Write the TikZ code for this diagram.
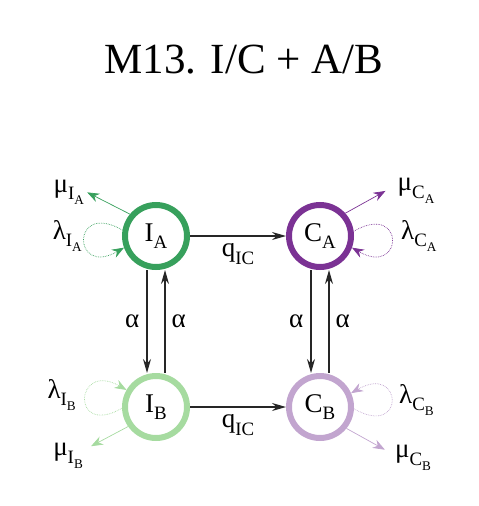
\documentclass[tikz,border=0pt]{standalone}
\usepackage{fontspec}
\setmainfont{Liberation Serif}
\usepackage{tikz}
\usetikzlibrary{arrows.meta,positioning}
\definecolor{ia}{HTML}{37A05C}
\definecolor{ca}{HTML}{7B3294}
\definecolor{ib}{HTML}{A6DBA0}
\definecolor{cb}{HTML}{C2A5CF}
\tikzset{
  st/.style={circle, draw=#1, line width=6pt, minimum size=62pt, inner sep=0pt,
             font=\fontsize{27}{30}\selectfont},
  lab/.style={font=\fontsize{27}{30}\selectfont, inner sep=0pt},
  arr/.style={-{Stealth[length=14pt,width=8pt]}, line width=1.3pt, draw=black!85},
  mu/.style={-{Stealth[length=12pt,width=9pt]}, line width=0.7pt, draw=#1},
  lam/.style={-{Stealth[length=12pt,width=9pt]}, line width=0.7pt, densely dotted, draw=#1}}
% lowered subscript in text
\newcommand{\lo}[1]{\raisebox{-0.28em}{\scalebox{0.7}{#1}}}

\begin{document}
\begin{tikzpicture}[x=1pt, y=1pt, node distance=96pt and 103pt]
  \useasboundingbox (0,0) rectangle (479,-506);
  \node[lab, font=\fontsize{43}{46}\selectfont] (title) at (244,-60) {M13. I/C + A/B};
  \node[st=ia] (IA) at (156,-236) {I\lo{A}};
  \node[st=ca, right=96pt of IA] (CA) {C\lo{A}};
  \node[st=ib, below=103pt of IA] (IB) {I\lo{B}};
  \node[st=cb, right=96pt of IB] (CB) {C\lo{B}};
  % transitions
  \draw[arr] (IA) -- node[lab, below=7pt] {q\lo{IC}} (CA);
  \draw[arr] (IB) -- node[lab, below=7pt] {q\lo{IC}} (CB);
  \draw[arr] ([xshift=-9pt]IA.south) -- node[lab, left=7pt] {α} ([xshift=-9pt]IB.north);
  \draw[arr] ([xshift=9pt]IB.north) -- node[lab, right=6pt] {α} ([xshift=9pt]IA.south);
  \draw[arr] ([xshift=-9pt]CA.south) -- node[lab, left=7pt] {α} ([xshift=-9pt]CB.north);
  \draw[arr] ([xshift=9pt]CB.north) -- node[lab, right=6pt] {α} ([xshift=9pt]CA.south);
  % deaths
  \draw[mu=ia] (IA.140) -- ++(153:48) coordinate (muIA);
  \draw[mu=ca] (CA.42) -- ++(29:46) coordinate (muCA);
  \draw[mu=ib] (IB.215) -- ++(208:42) coordinate (muIB);
  \draw[mu=cb] (CB.-39) -- ++(-29:44) coordinate (muCB);
  \node[lab, anchor=east, xshift=-3pt] at (muIA) {μ\lo{I\lo{A}}};
  \node[lab, anchor=west, xshift=12pt] at (muCA) {μ\lo{C\lo{A}}};
  \node[lab, anchor=east, xshift=-8pt, yshift=-10pt] at (muIB) {μ\lo{I\lo{B}}};
  \node[lab, anchor=west, xshift=10pt, yshift=-8pt] at (muCB) {μ\lo{C\lo{B}}};
  % births
  \draw[lam=ia] (IA.170) .. controls +(150:60) and +(210:60) .. (IA.200);
  \draw[lam=ca] (CA.8) .. controls +(30:60) and +(-30:60) .. (CA.-20);
  \draw[lam=ib] (IB.182) .. controls +(210:60) and +(150:60) .. (IB.150);
  \draw[lam=cb] (CB.-3) .. controls +(-30:60) and +(30:60) .. (CB.24);
  \node[lab, left=40pt of IA] (lIA) {λ\lo{I\lo{A}}};
  \node[lab, right=47pt of CA] (lCA) {λ\lo{C\lo{A}}};
  \node[lab, left=46pt of IB, yshift=12pt] (lIB) {λ\lo{I\lo{B}}};
  \node[lab, right=45pt of CB, yshift=7pt] (lCB) {λ\lo{C\lo{B}}};
\end{tikzpicture}
\end{document}
